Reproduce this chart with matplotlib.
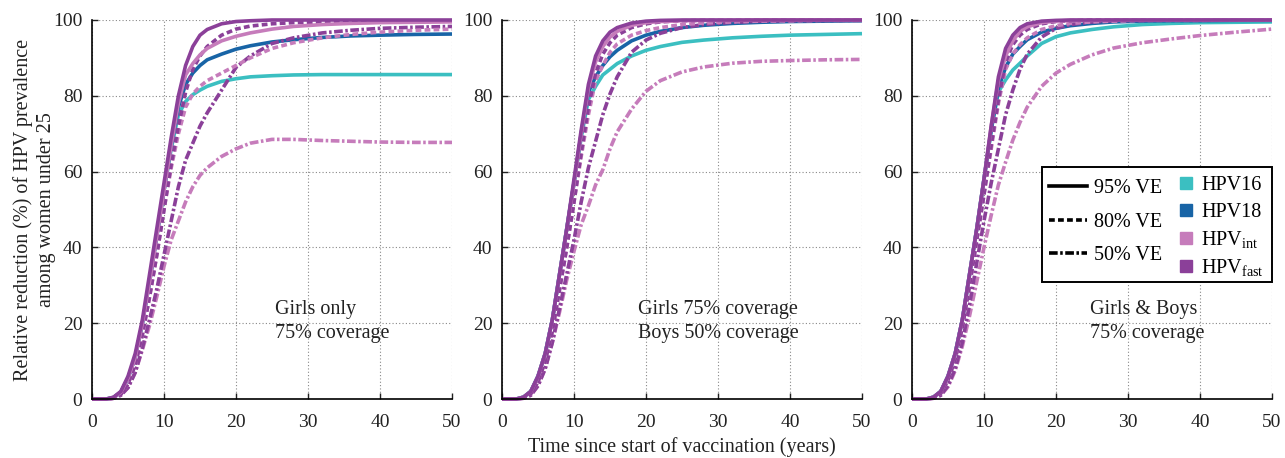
import numpy as np
import matplotlib
matplotlib.use("Agg")
import matplotlib.pyplot as plt
from matplotlib.lines import Line2D
from matplotlib.patches import Rectangle

plt.rcParams['font.family'] = ['Liberation Serif', 'DejaVu Serif']
plt.rcParams['mathtext.fontset'] = 'custom'
plt.rcParams['mathtext.rm'] = 'Liberation Serif'
plt.rcParams['mathtext.it'] = 'Liberation Serif:italic'

# ---------------- data ----------------
years = [0, 1, 2, 3, 4, 5, 6, 7, 8, 9, 10, 11, 12, 13, 14, 15, 16, 18, 20, 22, 25, 28, 32, 36, 40, 45, 50]

# Panel 1: Girls only, 75% coverage
p1_hpv16 = [0, 0, 0, 0.4, 1.8, 5.5, 11, 20, 31, 43, 55, 66, 75, 78.5, 80.3, 81.5, 82.5, 83.8, 84.5, 85, 85.3, 85.5, 85.6, 85.6, 85.6, 85.6, 85.6]
p1_hpv18 = [0, 0, 0, 0.4, 1.8, 5.5, 11, 20, 31, 43, 55, 67, 77, 83, 86, 88, 89.5, 91, 92.3, 93.2, 94.2, 94.8, 95.4, 95.8, 96, 96.2, 96.3]
p1_int95 = [0, 0, 0, 0.4, 1.8, 5.5, 11, 20, 31, 43, 55, 67, 78, 85.5, 88.5, 90.8, 92.5, 94.5, 95.7, 96.6, 97.6, 98.3, 98.8, 99.1, 99.3, 99.4, 99.5]
p1_fast95 = [0, 0, 0, 0.5, 2, 6, 12, 21, 33, 45, 57, 69, 80, 88, 93, 96, 97.5, 99, 99.6, 99.8, 100, 100, 100, 100, 100, 100, 100]
p1_int80 = [0, 0, 0, 0.2, 1.2, 4, 9, 17, 27, 38, 50, 61, 70, 77, 80.5, 82.5, 84, 86, 88, 90, 92.5, 94, 95.3, 96.2, 96.8, 97.3, 97.6]
p1_fast80 = [0, 0, 0, 0.2, 1.2, 4, 9, 17, 27, 38, 50, 62, 72, 81, 87, 90.5, 93, 96, 97.6, 98.4, 99, 99.3, 99.5, 99.6, 99.7, 99.7, 99.7]
p1_int50 = [0, 0, 0, 0.2, 1, 3, 7, 13, 19.5, 27, 35, 42, 47, 52, 56, 59, 61, 64, 66, 67.5, 68.5, 68.5, 68.2, 68, 67.8, 67.7, 67.7]
p1_fast50 = [0, 0, 0, 0.2, 1, 3, 7, 13.5, 21, 29, 38, 47, 56, 63, 67.5, 72, 75.5, 81.5, 87.5, 90.5, 93.8, 95.3, 96.6, 97.3, 97.8, 98.1, 98.3]

# Panel 2: Girls 75% coverage, Boys 50% coverage
p2_hpv16 = [0, 0, 0, 0.5, 2, 6, 12, 21, 33, 45, 57, 69, 79, 82.5, 85.5, 87, 88.5, 90.5, 92, 93, 94.1, 94.7, 95.3, 95.7, 96, 96.2, 96.4]
p2_hpv18 = [0, 0, 0, 0.5, 2, 6, 12, 21, 33, 45, 57, 70, 81, 85, 88, 90.3, 92, 94.5, 96, 97, 98, 98.6, 99.1, 99.4, 99.6, 99.7, 99.8]
p2_int95 = [0, 0, 0, 0.5, 2, 6, 12, 21, 33, 45, 57, 70, 82, 89, 93, 95.5, 97, 98.6, 99.3, 99.6, 99.8, 99.9, 99.9, 100, 100, 100, 100]
p2_fast95 = [0, 0, 0, 0.5, 2, 6, 12, 21, 33, 45, 58, 71, 83, 90.5, 94.5, 96.8, 98, 99.2, 99.7, 99.9, 100, 100, 100, 100, 100, 100, 100]
p2_int80 = [0, 0, 0, 0.3, 1.4, 4.5, 10, 18, 29, 40, 52, 64, 75, 84, 88, 91.5, 93.7, 96, 97.2, 98, 98.8, 99.2, 99.5, 99.7, 99.8, 99.9, 99.9]
p2_fast80 = [0, 0, 0, 0.3, 1.4, 4.5, 10, 18, 29, 40, 52, 65, 77, 86, 91, 94, 96, 98, 99, 99.5, 99.8, 99.9, 99.9, 100, 100, 100, 100]
p2_int50 = [0, 0, 0, 0.2, 1, 3.5, 8, 15, 23, 31.5, 39, 46, 51, 56.5, 60.5, 66, 70.5, 76.5, 81.2, 84, 86.3, 87.6, 88.6, 89.1, 89.3, 89.5, 89.6]
p2_fast50 = [0, 0, 0, 0.2, 1, 3.5, 8, 15, 24, 33, 42, 52, 61, 68, 75, 80.5, 85, 91.5, 94.7, 96.5, 98, 98.8, 99.4, 99.7, 99.8, 99.9, 99.9]

# Panel 3: Girls & Boys, 75% coverage
p3_hpv16 = [0, 0, 0, 0.5, 2, 6, 12, 21, 33, 45, 58, 71, 81, 84.2, 86.8, 88.6, 90.5, 93.8, 95.6, 96.6, 97.5, 98.2, 98.8, 99.1, 99.3, 99.4, 99.5]
p3_hpv18 = [0, 0, 0, 0.5, 2, 6, 12, 21, 33, 45, 58, 71, 82, 87.5, 91, 93, 94.8, 96.8, 97.8, 98.5, 99.1, 99.5, 99.7, 99.8, 99.8, 99.9, 99.9]
p3_int95 = [0, 0, 0, 0.5, 2, 6, 12, 21, 33, 45, 58, 72, 84, 90.5, 94.5, 97, 98.2, 99.3, 99.7, 99.9, 99.9, 100, 100, 100, 100, 100, 100]
p3_fast95 = [0, 0, 0, 0.5, 2, 6, 12, 21, 33, 45, 58, 72, 85, 92.5, 96, 98, 99, 99.7, 99.9, 100, 100, 100, 100, 100, 100, 100, 100]
p3_int80 = [0, 0, 0, 0.3, 1.5, 5, 10.5, 19, 30, 42, 54, 66, 78, 87, 91, 93.5, 95.3, 97.5, 98.5, 99.1, 99.5, 99.7, 99.9, 99.9, 99.9, 100, 100]
p3_fast80 = [0, 0, 0, 0.3, 1.5, 5, 10.5, 19, 30, 42, 54, 67, 79, 89, 93.5, 96, 97.5, 99, 99.6, 99.8, 100, 100, 100, 100, 100, 100, 100]
p3_int50 = [0, 0, 0, 0.2, 1, 3.2, 7.5, 14, 22, 31, 40, 48.5, 56.5, 62.5, 68.3, 73, 77, 82.5, 86, 88.3, 90.8, 92.6, 94, 95, 95.9, 96.8, 97.6]
p3_fast50 = [0, 0, 0, 0.2, 1, 3.5, 8, 15, 25, 36, 47, 57, 66, 75, 81.5, 87, 91, 95.5, 97.8, 98.8, 99.5, 99.8, 99.9, 100, 100, 100, 100]

panel_texts = ["Girls only\n75% coverage",
               "Girls 75% coverage\nBoys 50% coverage",
               "Girls & Boys\n75% coverage"]
text_x = [25.4, 18.9, 24.7]

x_ticks = [0, 10, 20, 30, 40, 50]
y_ticks = [0, 20, 40, 60, 80, 100]

type_labels = ["HPV16", "HPV18", r"HPV$_{\rm int}$", r"HPV$_{\rm fast}$"]
ve_labels = ["95% VE", "80% VE", "50% VE"]

# ---------------- styles ----------------
C16 = "#3bbfc1"
C18 = "#1864a6"
CINT = "#c67cbb"
CFAST = "#8b4099"
LS = {"95": "-", "80": (0, (1.6, 0.9)), "50": (0, (2.4, 0.7, 0.7, 0.7))}
LW = 2.6
TXT = "#222222"

panels = [
    [(p1_hpv16, C16, "95"), (p1_hpv18, C18, "95"), (p1_int50, CINT, "50"), (p1_fast50, CFAST, "50"),
     (p1_int80, CINT, "80"), (p1_fast80, CFAST, "80"), (p1_int95, CINT, "95"), (p1_fast95, CFAST, "95")],
    [(p2_hpv16, C16, "95"), (p2_hpv18, C18, "95"), (p2_int50, CINT, "50"), (p2_fast50, CFAST, "50"),
     (p2_int80, CINT, "80"), (p2_fast80, CFAST, "80"), (p2_int95, CINT, "95"), (p2_fast95, CFAST, "95")],
    [(p3_hpv16, C16, "95"), (p3_hpv18, C18, "95"), (p3_int50, CINT, "50"), (p3_fast50, CFAST, "50"),
     (p3_int80, CINT, "80"), (p3_fast80, CFAST, "80"), (p3_int95, CINT, "95"), (p3_fast95, CFAST, "95")],
]

fig = plt.figure(figsize=(12.85, 4.58), dpi=100)
lefts = [92, 502, 912]
axes = []
for i, L in enumerate(lefts):
    ax = fig.add_axes([L / 1285, 1 - 399 / 458, 360 / 1285, 379 / 458])
    axes.append(ax)
    for vals, col, ve in panels[i]:
        ax.plot(years, vals, color=col, ls=LS[ve], lw=LW, clip_on=False,
                solid_capstyle='butt', dash_capstyle='butt')
    ax.set_xlim(0, 50)
    ax.set_ylim(0, 100)
    ax.set_xticks(x_ticks)
    ax.set_yticks(y_ticks)
    ax.grid(True, ls=(0, (1, 2)), color="#888888", lw=0.8)
    ax.set_axisbelow(True)
    for s in ["top", "right"]:
        ax.spines[s].set_visible(False)
    for s in ["left", "bottom"]:
        ax.spines[s].set_linewidth(1.2)
    ax.tick_params(direction="in", length=4, width=1.0, labelsize=14, colors=TXT)
    ax.tick_params(axis="x", pad=11)
    ax.tick_params(axis="y", pad=7)
    ax.text(text_x[i], 20.5, panel_texts[i], fontsize=14.5, ha="left", va="center",
            linespacing=1.35, color=TXT)

axes[0].set_ylabel("Relative reduction (%) of HPV prevalence\namong women under 25",
                   fontsize=14.5, linespacing=1.3, color=TXT)
axes[0].yaxis.set_label_coords(-0.1, 0.5)
axes[1].set_xlabel("Time since start of vaccination (years)", fontsize=14.5, labelpad=4, color=TXT)

# legend box
ax3 = axes[2]
ax3.add_patch(Rectangle(((1042 - 912) / 360, (399 - 282) / 379), (1272 - 1042) / 360, (282 - 167) / 379,
                        transform=ax3.transAxes, fill=True, facecolor="white", edgecolor="black",
                        lw=1.4, zorder=5, clip_on=False))
ve_handles = [Line2D([], [], color="black", lw=2.6, ls=LS[k]) for k in ["95", "80", "50"]]
leg1 = ax3.legend(ve_handles, ve_labels, loc="center left",
                  bbox_to_anchor=((1049 - 912) / 360, (399 - 222) / 379), frameon=False,
                  fontsize=14.5, handlelength=1.9, handletextpad=0.35, labelspacing=0.72,
                  borderpad=0, borderaxespad=0)
leg1.set_zorder(6)
ax3.add_artist(leg1)
col_handles = [Line2D([], [], color=c, marker="s", ls="none", markersize=8) for c in [C16, C18, CINT, CFAST]]
leg2 = ax3.legend(col_handles, type_labels, loc="center left",
                  bbox_to_anchor=((1178 - 912) / 360, (399 - 227) / 379), frameon=False,
                  fontsize=14.5, handlelength=0.8, handletextpad=0.35, labelspacing=0.35,
                  borderpad=0, borderaxespad=0)
leg2.set_zorder(6)

fig.savefig("out.png", dpi=100)
